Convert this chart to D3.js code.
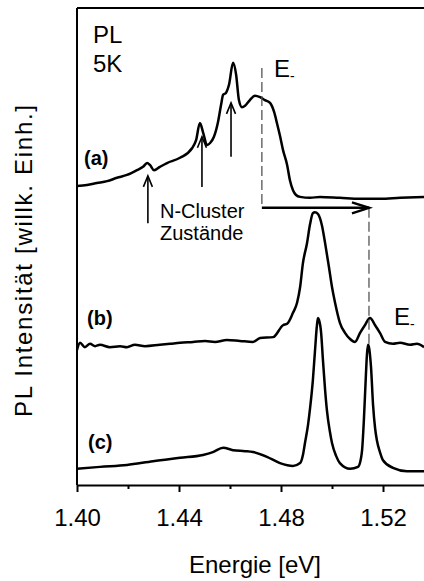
<!DOCTYPE html>
<html>
<head>
<meta charset="utf-8">
<script src="https://cdn.jsdelivr.net/npm/d3@7"></script>
<style>
body { margin: 0; background: #fff; }
text { font-family: "Liberation Sans", Arial, sans-serif; fill: #000; }
</style>
</head>
<body>
<div id="chart"></div>
<script>
var w = 424;
var h = 581;

// tick labels
var xTicks = [1.40, 1.44, 1.48, 1.52];
var xMinor = [1.42, 1.46, 1.50];

// spectrum (a)
var energyA = [1.4000, 1.4039, 1.4078, 1.4118, 1.4157, 1.4196, 1.4235, 1.4259, 1.4275, 1.4286,
  1.4302, 1.4325, 1.4353, 1.4404, 1.4451, 1.4467, 1.4482, 1.4494, 1.4510, 1.4522,
  1.4537, 1.4553, 1.4565, 1.4573, 1.4584, 1.4596, 1.4612, 1.4624, 1.4635, 1.4647,
  1.4659, 1.4678, 1.4698, 1.4718, 1.4737, 1.4757, 1.4773, 1.4784, 1.4796, 1.4808,
  1.4824, 1.4835, 1.4847, 1.4859, 1.4875, 1.4914, 1.4953, 1.5031, 1.5110, 1.5188,
  1.5267, 1.5361];
var plA = [62.7, 62.9, 63.3, 63.7, 64.4, 65.0, 66.0, 66.7, 67.5, 67.1,
  66.0, 66.7, 67.5, 68.6, 70.6, 72.3, 75.9, 74.0, 71.3, 71.7,
  73.0, 76.1, 79.7, 81.8, 82.2, 83.9, 88.5, 86.0, 80.7, 79.2,
  79.5, 80.7, 81.6, 81.3, 80.7, 80.1, 78.2, 75.9, 73.2, 70.2,
  67.1, 63.9, 61.8, 60.8, 60.4, 60.2, 60.4, 60.2, 60.0, 60.0,
  60.2, 60.4];

// spectrum (b)
var energyB = [1.4000, 1.4012, 1.4031, 1.4051, 1.4071, 1.4090, 1.4129, 1.4169, 1.4196, 1.4227,
  1.4267, 1.4325, 1.4365, 1.4404, 1.4455, 1.4502, 1.4541, 1.4588, 1.4639, 1.4690,
  1.4718, 1.4769, 1.4808, 1.4824, 1.4847, 1.4863, 1.4875, 1.4886, 1.4902, 1.4914,
  1.4925, 1.4933, 1.4945, 1.4961, 1.4973, 1.4988, 1.5000, 1.5012, 1.5031, 1.5051,
  1.5071, 1.5090, 1.5110, 1.5129, 1.5149, 1.5169, 1.5188, 1.5208, 1.5239, 1.5267,
  1.5306, 1.5333, 1.5361];
var plB = [28.3, 29.8, 28.9, 29.6, 29.1, 29.4, 28.9, 29.1, 28.9, 29.4,
  29.1, 29.4, 29.6, 29.8, 30.0, 30.2, 30.0, 30.4, 30.2, 30.0,
  30.8, 31.0, 33.5, 33.8, 36.1, 38.2, 41.5, 46.5, 50.7, 54.7,
  57.0, 57.2, 56.8, 54.3, 50.7, 45.7, 41.5, 38.2, 34.0, 31.9,
  30.6, 30.0, 31.9, 33.5, 35.0, 33.5, 31.9, 30.0, 29.6, 29.8,
  29.4, 29.6, 28.9];

// spectrum (c)
var energyC = [1.4000, 1.4090, 1.4196, 1.4298, 1.4404, 1.4494, 1.4533, 1.4573, 1.4612, 1.4659,
  1.4690, 1.4745, 1.4796, 1.4847, 1.4875, 1.4886, 1.4894, 1.4906, 1.4914, 1.4925,
  1.4933, 1.4941, 1.4945, 1.4949, 1.4957, 1.4965, 1.4973, 1.4980, 1.4992, 1.5000,
  1.5016, 1.5031, 1.5071, 1.5102, 1.5114, 1.5118, 1.5125, 1.5133, 1.5137, 1.5141,
  1.5145, 1.5153, 1.5161, 1.5169, 1.5176, 1.5188, 1.5200, 1.5239, 1.5294, 1.5361];
var plC = [3.4, 3.8, 4.2, 5.0, 5.7, 6.3, 6.9, 7.8, 7.3, 7.1,
  6.9, 5.9, 4.6, 4.0, 4.6, 6.3, 8.8, 12.6, 16.1, 22.0,
  27.9, 33.5, 35.0, 34.6, 32.1, 25.8, 19.9, 15.7, 11.1, 8.8,
  6.1, 4.6, 3.4, 3.8, 5.7, 7.3, 13.6, 23.1, 27.3, 29.4,
  28.9, 24.7, 16.8, 11.9, 9.4, 6.9, 5.2, 3.6, 2.9, 2.9];

var svg = d3.select("#chart")
  .append("svg")
  .attr("width", w)
  .attr("height", h);

var x = d3.scaleLinear().domain([1.40, 1.54]).range([77, 434]);
var y = d3.scaleLinear().domain([0, 100]).range([485, 8]);

// frame: left, top
svg.append("line")
  .attr("x1", x(1.40)).attr("x2", x(1.40))
  .attr("y1", y(100)).attr("y2", y(0))
  .style("stroke", "#000").style("stroke-width", 2);
svg.append("line")
  .attr("x1", x(1.40)).attr("x2", x(1.54))
  .attr("y1", y(100)).attr("y2", y(100))
  .style("stroke", "#000").style("stroke-width", 2);

// x axis
var xAxis = svg.append("g")
  .attr("transform", "translate(0," + y(0) + ")")
  .call(d3.axisBottom(x).tickValues(xTicks).tickSize(7).tickSizeOuter(0).tickPadding(17)
    .tickFormat(d3.format(".2f")));
svg.append("g")
  .attr("transform", "translate(0," + y(0) + ")")
  .call(d3.axisBottom(x).tickValues(xMinor).tickSize(4).tickSizeOuter(0).tickFormat(""))
  .select(".domain").remove();
svg.selectAll(".domain, .tick line").style("stroke", "#000").style("stroke-width", 2);
xAxis.selectAll("text")
  .style("font-size", "24px")
  .style("font-family", "\"Liberation Sans\", Arial, sans-serif")
  .attr("fill", "#000");

// axis titles
svg.append("text")
  .attr("x", 255).attr("y", 573)
  .attr("text-anchor", "middle")
  .style("font-size", "24px")
  .text("Energie [eV]");
svg.append("text")
  .attr("transform", "translate(32,261) rotate(-90)")
  .attr("text-anchor", "middle")
  .attr("textLength", 312)
  .attr("lengthAdjust", "spacing")
  .style("font-size", "24px")
  .text("PL Intensität [willk. Einh.]");

// spectra
var line = d3.line()
  .x(function(d) { return x(d[0]); })
  .y(function(d) { return y(d[1]); })
  .curve(d3.curveMonotoneX);

[[energyA, plA], [energyB, plB], [energyC, plC]].forEach(function(s) {
  svg.append("path")
    .datum(d3.zip(s[0], s[1]))
    .attr("d", line)
    .style("fill", "none")
    .style("stroke", "#000")
    .style("stroke-width", 2.5)
    .style("stroke-linejoin", "round");
});

// dashed markers
function dash(e, i0, i1) {
  svg.append("line")
    .attr("x1", x(e)).attr("x2", x(e))
    .attr("y1", y(i0)).attr("y2", y(i1))
    .style("stroke", "#555").style("stroke-width", 1.3)
    .style("stroke-dasharray", "10,4");
}
dash(1.4725, 87.4, 58.3);
dash(1.5145, 58.1, 29.4);

// arrows
function arrow(x1, y1, x2, y2, sw, len, half) {
  var a = Math.atan2(y2 - y1, x2 - x1);
  svg.append("line")
    .attr("x1", x1).attr("y1", y1).attr("x2", x2).attr("y2", y2)
    .style("stroke", "#000").style("stroke-width", sw);
  var p = [
    [x2 - len * Math.cos(a) + half * Math.sin(a), y2 - len * Math.sin(a) - half * Math.cos(a)],
    [x2, y2],
    [x2 - len * Math.cos(a) - half * Math.sin(a), y2 - len * Math.sin(a) + half * Math.cos(a)]
  ];
  svg.append("path")
    .attr("d", d3.line()(p))
    .style("fill", "none").style("stroke", "#000").style("stroke-width", sw)
    .style("stroke-linejoin", "miter");
}
arrow(x(1.4278), y(54.9), x(1.4278), y(64.8), 1.6, 11, 4.5);
arrow(x(1.4490), y(62.5), x(1.4490), y(73.0), 1.6, 11, 4.5);
arrow(x(1.4604), y(68.8), x(1.4604), y(80.1), 1.6, 11, 4.5);
arrow(x(1.4725), y(58.1), x(1.5145), y(58.1), 2.5, 17, 5.5);

// labels
function label(tx, ty, str, size, weight) {
  return svg.append("text")
    .attr("x", tx).attr("y", ty)
    .style("font-size", size + "px")
    .style("font-weight", weight || "normal")
    .text(str);
}
label(93, 43, "PL", 24);
label(93, 72, "5K", 24);
label(84, 165, "(a)", 20, "bold");
label(87, 325, "(b)", 20, "bold");
label(88, 449, "(c)", 20, "bold");
label(160, 218, "N-Cluster", 20);
label(160, 240, "Zustände", 20);

function eMinus(tx, ty) {
  var t = label(tx, ty, "E", 24);
  t.append("tspan").attr("dy", 4).style("font-size", "14px").text("-");
}
eMinus(274, 77);
eMinus(394, 325);
</script>
</body>
</html>
